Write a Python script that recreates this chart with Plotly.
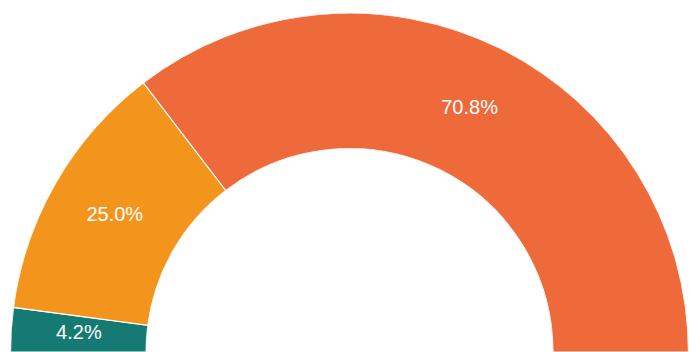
import plotly.graph_objects as go

labels = ["A", "B", "C"]
values = [4.2, 25.0, 70.8]
colors = ["#167a74", "#f3951c", "#ee6a3a"]
text_labels = ["4.2%", "25.0%", "70.8%"]

total = sum(values)
widths = [v / total * 180 for v in values]
centers = []
acc = 0
for w in widths:
    centers.append(acc + w / 2)
    acc += w

fig = go.Figure()
fig.add_trace(go.Barpolar(
    r=[1] * len(values),
    theta=centers,
    width=widths,
    marker=dict(color=colors, line=dict(color="white", width=1.2)),
    hoverinfo="skip",
    showlegend=False,
))
fig.add_trace(go.Scatterpolar(
    r=[0.5] * len(values),
    theta=centers,
    mode="text",
    text=text_labels,
    textfont=dict(color="white", size=20, family="Liberation Sans, Arial, sans-serif"),
    hoverinfo="skip",
    showlegend=False,
))

fig.update_layout(
    width=689,
    height=352,
    margin=dict(l=0, r=0, t=0, b=0),
    paper_bgcolor="white",
    polar=dict(
        domain=dict(x=[10 / 689, 1], y=[0, 339 / 352]),
        sector=[0, 180],
        hole=0.6,
        bgcolor="rgba(0,0,0,0)",
        radialaxis=dict(range=[0, 1], visible=False, showgrid=False),
        angularaxis=dict(visible=False, showgrid=False, rotation=180,
                         direction="clockwise"),
        bargap=0,
    ),
)

fig.write_html(
    "out.html",
    config={"displayModeBar": False},
    post_script="document.body.style.margin='0';document.body.style.overflow='hidden';"
                "document.documentElement.style.overflow='hidden';",
)
